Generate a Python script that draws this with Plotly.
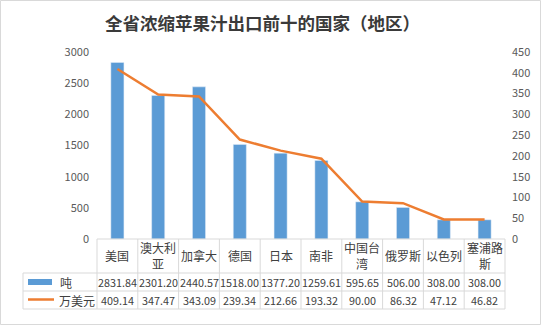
import plotly.graph_objects as go

# Data
countries = ["美国", "澳大利亚", "加拿大", "德国", "日本", "南非", "中国台湾", "俄罗斯", "以色列", "塞浦路斯"]
header_labels = ["美国", "澳大利<br>亚", "加拿大", "德国", "日本", "南非", "中国台<br>湾", "俄罗斯", "以色列", "塞浦路<br>斯"]
tons = [2831.84, 2301.20, 2440.57, 1518.00, 1377.20, 1259.61, 595.65, 506.00, 308.00, 308.00]
usd_10k = [409.14, 347.47, 343.09, 239.34, 212.66, 193.32, 90.00, 86.32, 47.12, 46.82]
series_names = ["吨", "万美元"]
title_text = "全省浓缩苹果汁出口前十的国家（地区）"

BLUE = "#5B9BD5"
ORANGE = "#ED7D31"
GRID = "#D9D9D9"
TEXT = "#404040"
FONT = "Noto Sans CJK SC"

W, H = 541, 325
PL, PR, PT, PB = 97, 505, 52, 239  # plot area in pixels


def px(x):
    return (x - PL) / (PR - PL)


def py(y):
    return (PB - y) / (PB - PT)


fig = go.Figure()
fig.add_trace(go.Bar(x=countries, y=tons, name=series_names[0], marker_color=BLUE,
                     width=0.32, yaxis="y"))
fig.add_trace(go.Scatter(x=countries, y=usd_10k, name=series_names[1], mode="lines",
                         line=dict(color=ORANGE, width=2.5), yaxis="y2"))

shapes = []
# outer chart border
shapes.append(dict(type="rect", xref="paper", yref="paper", x0=px(0.5), x1=px(540.5),
                   y0=py(0.5), y1=py(324.5), line=dict(color=GRID, width=1), layer="below"))

# data table grid
row_tops = [239, 273, 291, 309]
shapes.append(dict(type="line", xref="paper", yref="paper", x0=px(PL), x1=px(PR),
                   y0=py(239), y1=py(239), line=dict(color=GRID, width=1)))
for yy in row_tops[1:]:
    shapes.append(dict(type="line", xref="paper", yref="paper", x0=px(23), x1=px(PR),
                       y0=py(yy), y1=py(yy), line=dict(color=GRID, width=1)))
n = len(countries)
for i in range(n + 1):
    shapes.append(dict(type="line", xref="x domain", yref="paper", x0=i / n, x1=i / n,
                       y0=py(239), y1=py(309), line=dict(color=GRID, width=1)))
shapes.append(dict(type="line", xref="paper", yref="paper", x0=px(23), x1=px(23),
                   y0=py(273), y1=py(309), line=dict(color=GRID, width=1)))

# legend keys in the table
shapes.append(dict(type="rect", xref="paper", yref="paper", x0=px(28), x1=px(52),
                   y0=py(285), y1=py(279), fillcolor=BLUE, line=dict(width=0)))
shapes.append(dict(type="line", xref="paper", yref="paper", x0=px(28), x1=px(54),
                   y0=py(299.5), y1=py(299.5), line=dict(color=ORANGE, width=2.5)))

annotations = []
annotations.append(dict(text=f"<b>{title_text}</b>", xref="paper", yref="paper",
                        x=px(262), y=py(22), showarrow=False, xanchor="center", yanchor="middle",
                        font=dict(family=FONT, size=17.5, color="#3A3A3A")))
for i, c in enumerate(countries):
    annotations.append(dict(text=header_labels[i], xref="x", yref="paper", x=c, y=py(256),
                            showarrow=False, xanchor="center", yanchor="middle",
                            font=dict(family=FONT, size=12, color=TEXT)))
    annotations.append(dict(text=f"{tons[i]:.2f}", xref="x", yref="paper", x=c, y=py(282),
                            showarrow=False, xanchor="center", yanchor="middle",
                            font=dict(family=FONT, size=10.8, color=TEXT)))
    annotations.append(dict(text=f"{usd_10k[i]:.2f}", xref="x", yref="paper", x=c, y=py(300),
                            showarrow=False, xanchor="center", yanchor="middle",
                            font=dict(family=FONT, size=10.8, color=TEXT)))
annotations.append(dict(text=series_names[0], xref="paper", yref="paper", x=px(58), y=py(282),
                        showarrow=False, xanchor="left", yanchor="middle",
                        font=dict(family=FONT, size=12, color=TEXT)))
annotations.append(dict(text=series_names[1], xref="paper", yref="paper", x=px(57), y=py(300),
                        showarrow=False, xanchor="left", yanchor="middle",
                        font=dict(family=FONT, size=12, color=TEXT)))

tickfont = dict(family=FONT, size=11, color="#595959")
fig.update_layout(
    width=W, height=H, autosize=False,
    margin=dict(l=PL, r=W - PR, t=PT, b=H - PB, pad=0),
    paper_bgcolor="white", plot_bgcolor="white",
    showlegend=False,
    shapes=shapes, annotations=annotations,
    xaxis=dict(type="category", range=[-0.5, n - 0.5], showticklabels=False,
               showgrid=False, zeroline=False, showline=False, ticks=""),
    yaxis=dict(range=[0, 3000], dtick=500, showgrid=False, zeroline=False, showline=False,
               ticks="", tickfont=tickfont, ticklabelstandoff=7),
    yaxis2=dict(range=[0, 450], dtick=50, overlaying="y", side="right", showgrid=False,
                zeroline=False, showline=False, ticks="", tickfont=tickfont,
                ticklabelstandoff=6),
)

fig.write_html("out.html")
